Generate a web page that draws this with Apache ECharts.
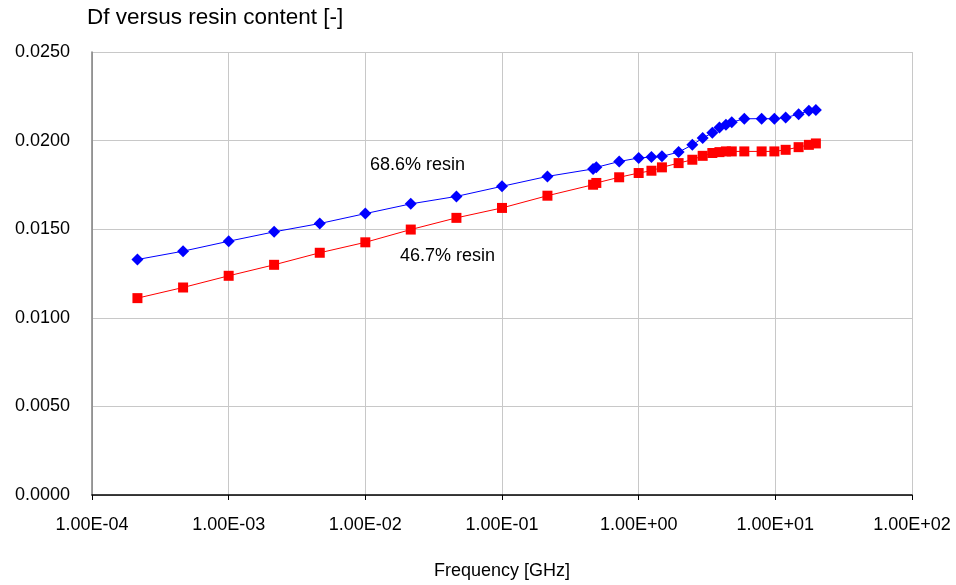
<!DOCTYPE html>
<html>
<head>
<meta charset="utf-8">
<script src="https://cdn.jsdelivr.net/npm/echarts@6/dist/echarts.min.js"></script>
<style>
html,body{margin:0;padding:0;background:#fff;}
#chart{width:956px;height:585px;}
</style>
</head>
<body>
<div id="chart"></div>
<script>
// Frequency [GHz]
var freq = [0.000215, 0.000464, 0.001, 0.00215, 0.00464, 0.01, 0.0215, 0.0464, 0.1, 0.215,
            0.464, 0.49, 0.72, 1.0, 1.24, 1.48, 1.96, 2.47, 2.94, 3.46,
            3.9, 4.35, 4.8, 5.93, 7.94, 9.84, 11.9, 14.8, 17.6, 19.8];
// Df, 68.6% resin
var df686 = [0.01329, 0.01376, 0.01432, 0.01485, 0.01532, 0.01588, 0.01643, 0.01685, 0.01742, 0.01798,
             0.01840, 0.01849, 0.01882, 0.01902, 0.01907, 0.01911, 0.01935, 0.01976, 0.02014, 0.02044,
             0.02074, 0.02089, 0.02104, 0.02123, 0.02124, 0.02123, 0.02130, 0.02149, 0.02168, 0.02173];
// Df, 46.7% resin
var df467 = [0.01111, 0.01171, 0.01237, 0.01299, 0.01367, 0.01426, 0.01498, 0.01564, 0.01620, 0.01689,
             0.01751, 0.01761, 0.01793, 0.01817, 0.01830, 0.01849, 0.01873, 0.01892, 0.01914, 0.01930,
             0.01935, 0.01939, 0.01939, 0.01939, 0.01939, 0.01939, 0.01948, 0.01963, 0.01976, 0.01984];
var xTickLabels = ['1.00E-04', '1.00E-03', '1.00E-02', '1.00E-01', '1.00E+00', '1.00E+01', '1.00E+02'];
var yTickLabels = ['0.0000', '0.0050', '0.0100', '0.0150', '0.0200', '0.0250'];

var FONT = '"Liberation Sans", Arial, sans-serif';
function pairs(xs, ys){ return xs.map(function(x,i){ return [x, ys[i]]; }); }

var chart = echarts.init(document.getElementById('chart'), null, {renderer:'canvas'});
chart.setOption({
  animation: false,
  backgroundColor: '#ffffff',
  title: {
    text: 'Df versus resin content [-]',
    left: 82, top: 1,
    textStyle: {fontFamily: FONT, fontSize: 22.5, fontWeight: 'normal', color: '#000'}
  },
  grid: {left: 92, right: 44, top: 52, bottom: 89, containLabel: false},
  xAxis: {
    type: 'log', logBase: 10, min: 1e-4, max: 1e2,
    name: 'Frequency [GHz]', nameLocation: 'middle', nameGap: 67,
    nameTextStyle: {fontFamily: FONT, fontSize: 18, color: '#000'},
    axisLine: {show: true, lineStyle: {color: '#000', width: 1.5}},
    axisTick: {show: true, length: 5, lineStyle: {color: '#000'}},
    minorTick: {show: false},
    splitLine: {show: true, lineStyle: {color: '#c8c8c8', width: 1}},
    axisLabel: {
      margin: 21, fontFamily: FONT, fontSize: 18, color: '#000',
      formatter: function(v){ var i = Math.round(Math.log10(v)) + 4; return xTickLabels[i] || ''; }
    }
  },
  yAxis: {
    type: 'value', min: 0, max: 0.025, interval: 0.005,
    axisLine: {show: true, lineStyle: {color: '#808080', width: 1.5}},
    axisTick: {show: false},
    splitLine: {show: true, lineStyle: {color: '#c8c8c8', width: 1}},
    axisLabel: {
      margin: 22, fontFamily: FONT, fontSize: 18, color: '#000',
      formatter: function(v){ var i = Math.round(v / 0.005); return yTickLabels[i] || ''; }
    }
  },
  series: [
    {
      name: '68.6% resin', type: 'line', data: pairs(freq, df686),
      symbol: 'diamond', symbolSize: 12, showAllSymbol: true,
      lineStyle: {color: '#0000ff', width: 1},
      itemStyle: {color: '#0000ff'}
    },
    {
      name: '46.7% resin', type: 'line', data: pairs(freq, df467),
      symbol: 'rect', symbolSize: 10, showAllSymbol: true,
      lineStyle: {color: '#ff0000', width: 1},
      itemStyle: {color: '#ff0000'}
    }
  ],
  graphic: [
    {type: 'text', left: 370, top: 156, style: {text: '68.6% resin', font: '18px ' + FONT, fill: '#000'}},
    {type: 'text', left: 400, top: 247, style: {text: '46.7% resin', font: '18px ' + FONT, fill: '#000'}}
  ]
});
</script>
</body>
</html>
